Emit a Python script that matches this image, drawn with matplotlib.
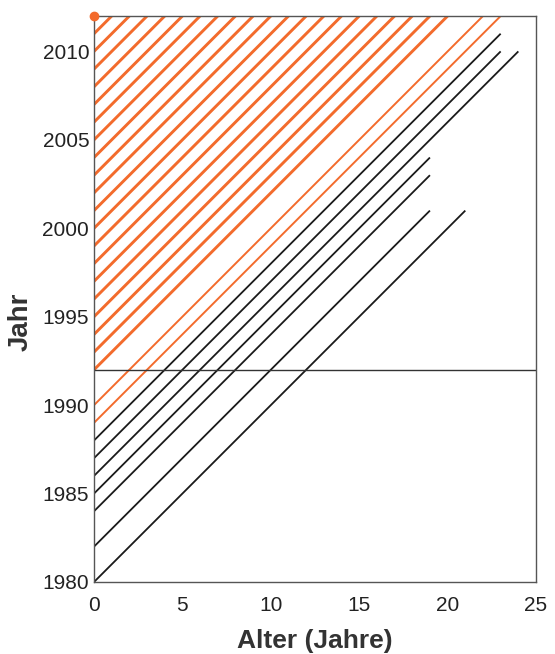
import matplotlib
matplotlib.use("Agg")
import matplotlib.pyplot as plt

plt.rcParams['font.family'] = ['Liberation Sans', 'DejaVu Sans']

# cohorts drawn in black: birth year and age at end of line
black_births = [1980, 1982, 1984, 1985, 1986, 1987, 1988]
black_end_ages = [21, 19, 19, 19, 24, 23, 23]

# thin orange cohorts (born before 1992, observed up to 2012)
thin_births = [1989, 1990]
thin_end_ages = [23, 22]

# thick orange cohorts born 1992..2011, observed up to 2012
thick_births = list(range(1992, 2012))
end_year = 2012

cut_year = 1992
dot_age, dot_year = 0, 2012

x_ticks = [0, 5, 10, 15, 20, 25]
y_ticks = [1980, 1985, 1990, 1995, 2000, 2005, 2010]

orange = '#f36b2c'

fig = plt.figure(figsize=(5.55, 6.54), dpi=100)
ax = fig.add_axes([0.1694, 0.1101, 0.7964, 0.8654])

for b, a in zip(black_births, black_end_ages):
    ax.plot([0, a], [b, b + a], color='#1a1a1a', lw=1.3, solid_capstyle='butt')

for b, a in zip(thin_births, thin_end_ages):
    ax.plot([0, a], [b, b + a], color=orange, lw=1.4, solid_capstyle='butt')

for b in thick_births:
    a = end_year - b
    ax.plot([0, a], [b, b + a], color=orange, lw=2.1, solid_capstyle='butt')

ax.axhline(cut_year, color='#333333', lw=1.0)
ax.plot([dot_age], [dot_year], 'o', color=orange, ms=6, clip_on=False, zorder=5)

ax.set_xlim(0, 25)
ax.set_ylim(1980, 2012)
ax.set_xticks(x_ticks)
ax.set_yticks(y_ticks)
ax.tick_params(length=0, labelsize=15, colors='#222222')
ax.tick_params(axis='x', pad=10)
ax.tick_params(axis='y', pad=3.5)
for s in ax.spines.values():
    s.set_color('#555555')
    s.set_linewidth(1.0)

ax.set_xlabel('Alter (Jahre)', fontsize=19, fontweight='bold', color='#333333', labelpad=10)
ax.set_ylabel('Jahr', fontsize=20, fontweight='bold', color='#333333')
ax.yaxis.set_label_coords(-0.136, 0.459)

fig.savefig('out.png', dpi=100)
